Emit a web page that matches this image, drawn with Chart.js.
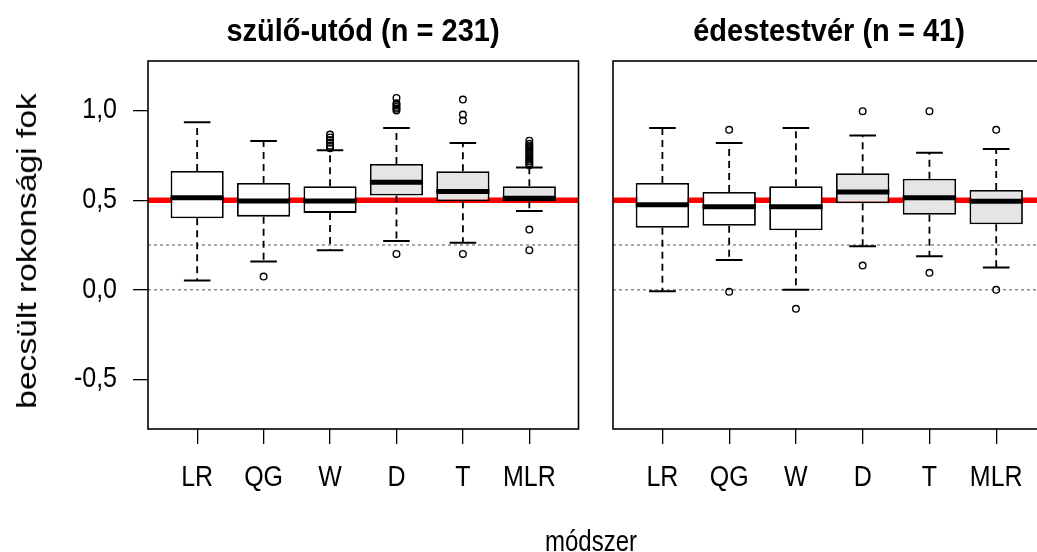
<!DOCTYPE html>
<html>
<head>
<meta charset="utf-8">
<script src="https://cdn.jsdelivr.net/npm/chart.js@4/dist/chart.umd.min.js"></script>
<style>
  html, body { margin: 0; padding: 0; width: 1037px; height: 552px; overflow: hidden; background: #fff; }
  canvas { position: absolute; top: 0; }
  .txt { position: absolute; font-family: "Liberation Sans", Arial, sans-serif; color: #000; white-space: nowrap; line-height: 1; }
  .ttl { font-weight: bold; font-size: 29px; top: 31px; transform: translate(-50%, -50%) scaleY(1.05); }
</style>
</head>
<body>
<canvas id="left" width="600" height="552" style="left:0px"></canvas>
<canvas id="right" width="460" height="552" style="left:600px"></canvas>
<div class="txt ttl" style="left:363px">szülő-utód (n = 231)</div>
<div class="txt ttl" style="left:829px">édestestvér (n = 41)</div>
<div class="txt" style="left:27px; top:251px; font-size:28px; transform: translate(-50%, -50%) rotate(-90deg) scaleX(1.2);">becsült rokonsági fok</div>
<div class="txt" style="left:591px; top:541px; font-size:24px; transform: translate(-50%, -50%) scaleY(1.25);">módszer</div>
<script>
// ---- data ----
const categories = ['LR', 'QG', 'W', 'D', 'T', 'MLR'];
const boxFill = ['#ffffff', '#ffffff', '#ffffff', '#e5e5e5', '#e5e5e5', '#e5e5e5'];
const yTicks = [-0.5, 0, 0.5, 1.0];
const redLineValue = 0.5;
const dottedLineValues = [0.25, 0];

// szülő-utód (n = 231)
const poLow    = [0.052, 0.158, 0.221, 0.273, 0.262, 0.440];
const poQ1     = [0.399, 0.408, 0.429, 0.526, 0.494, 0.494];
const poMedian = [0.514, 0.496, 0.496, 0.600, 0.548, 0.511];
const poQ3     = [0.663, 0.596, 0.578, 0.702, 0.661, 0.578];
const poHigh   = [0.934, 0.830, 0.778, 0.903, 0.819, 0.682];
const poOutliers = [
  [],
  [0.074],
  [0.790, 0.804, 0.820, 0.835, 0.850, 0.866],
  [0.200, 1.000, 1.010, 1.020, 1.030, 1.040, 1.070],
  [0.200, 0.944, 0.977, 1.061],
  [0.221, 0.336, 0.695, 0.705, 0.715, 0.725, 0.735, 0.745, 0.755, 0.765, 0.775, 0.785, 0.795, 0.805, 0.815, 0.832]
];

// édestestvér (n = 41)
const sibLow    = [-0.008, 0.167, 0.000, 0.243, 0.187, 0.124];
const sibQ1     = [0.346, 0.357, 0.332, 0.483, 0.418, 0.366];
const sibMedian = [0.474, 0.463, 0.463, 0.546, 0.514, 0.494];
const sibQ3     = [0.596, 0.546, 0.578, 0.650, 0.619, 0.557];
const sibHigh   = [0.903, 0.819, 0.903, 0.860, 0.765, 0.786];
const sibOutliers = [
  [],
  [0.892, -0.011],
  [-0.106],
  [0.996, 0.135],
  [0.996, 0.095],
  [0.892, 0.000]
];

// ---- chart helpers ----
const X_MIN = 0.26, X_MAX = 6.74;
const Y_MIN = -0.776, Y_MAX = 1.276;
const FONT = '"Liberation Sans", Arial, sans-serif';
const TICK_FONT_SIZE = 25;
const TICK_STRETCH = 1.15;

function fmt(v) {
  return (Math.round(v * 10) / 10).toFixed(1).replace('.', ',');
}

const boxPlugin = {
  id: 'boxParts',
  afterDatasetsDraw(chart) {
    const st = chart.options.plugins.boxParts;
    const xs = chart.scales.x, ys = chart.scales.y;
    const meta = chart.getDatasetMeta(st.boxIndex);
    const ctx = chart.ctx;
    ctx.save();
    for (let i = 0; i < categories.length; i++) {
      const cx = xs.getPixelForValue(i + 1);
      const bw = meta.data[i].width;
      const staple = bw / 2;
      ctx.strokeStyle = '#000';
      ctx.lineWidth = 1.8;
      ctx.setLineDash([7, 5]);
      ctx.beginPath();
      ctx.moveTo(cx, ys.getPixelForValue(st.q3[i]));
      ctx.lineTo(cx, ys.getPixelForValue(st.high[i]));
      ctx.moveTo(cx, ys.getPixelForValue(st.q1[i]));
      ctx.lineTo(cx, ys.getPixelForValue(st.low[i]));
      ctx.stroke();
      ctx.setLineDash([]);
      ctx.lineWidth = 2;
      ctx.beginPath();
      const yh = ys.getPixelForValue(st.high[i]);
      const yl = ys.getPixelForValue(st.low[i]);
      ctx.moveTo(cx - staple / 2, yh); ctx.lineTo(cx + staple / 2, yh);
      ctx.moveTo(cx - staple / 2, yl); ctx.lineTo(cx + staple / 2, yl);
      ctx.stroke();
      ctx.lineWidth = 5;
      ctx.lineCap = 'butt';
      const ym = ys.getPixelForValue(st.median[i]);
      ctx.beginPath();
      ctx.moveTo(cx - bw / 2, ym); ctx.lineTo(cx + bw / 2, ym);
      ctx.stroke();
    }
    ctx.restore();
  },
  afterDraw(chart) {
    const st = chart.options.plugins.boxParts;
    const a = chart.chartArea, ctx = chart.ctx;
    const xs = chart.scales.x, ys = chart.scales.y;
    ctx.save();
    ctx.strokeStyle = '#000';
    ctx.lineWidth = 1.6;
    ctx.strokeRect(a.left, a.top, a.right - a.left, a.bottom - a.top);
    ctx.fillStyle = '#000';
    ctx.font = TICK_FONT_SIZE + 'px ' + FONT;
    ctx.textBaseline = 'middle';
    ctx.textAlign = 'center';
    categories.forEach((c, i) => {
      ctx.save();
      ctx.translate(xs.getPixelForValue(i + 1), a.bottom + 49);
      ctx.scale(1, TICK_STRETCH);
      ctx.fillText(c, 0, 0);
      ctx.restore();
    });
    if (st.showY) {
      ctx.textAlign = 'right';
      yTicks.forEach(v => {
        ctx.save();
        ctx.translate(a.left - 31, ys.getPixelForValue(v));
        ctx.scale(1, TICK_STRETCH);
        ctx.fillText(fmt(v), 0, 0);
        ctx.restore();
      });
    }
    ctx.restore();
  }
};

function makeChart(id, low, q1, median, q3, high, outliers, showY, yWidth, padding) {
  const boxData = categories.map((c, i) => ({ x: i + 1, y: [q1[i], q3[i]] }));
  const outData = [];
  outliers.forEach((arr, i) => arr.forEach(v => outData.push({ x: i + 1, y: v })));
  const hline = v => [{ x: X_MIN, y: v }, { x: X_MAX, y: v }];
  const datasets = [
    {
      type: 'scatter', data: outData, order: 1,
      pointStyle: 'circle', pointRadius: 3.3, pointBorderWidth: 1.4,
      pointBorderColor: '#000', pointBackgroundColor: 'rgba(0,0,0,0)'
    },
    {
      type: 'bar', data: boxData, order: 2,
      backgroundColor: boxFill, borderColor: '#000', borderWidth: 1.8, borderSkipped: false,
      barPercentage: 0.8, categoryPercentage: 1.0
    },
    {
      type: 'line', data: hline(redLineValue), order: 3,
      borderColor: '#ff0000', borderWidth: 5.5, pointRadius: 0
    }
  ];
  dottedLineValues.forEach(v => datasets.push({
    type: 'line', data: hline(v), order: 4,
    borderColor: '#555', borderWidth: 1, borderDash: [3, 3], pointRadius: 0
  }));

  return new Chart(document.getElementById(id), {
    data: { datasets },
    plugins: [boxPlugin],
    options: {
      responsive: false,
      animation: false,
      events: [],
      layout: { padding: padding, autoPadding: false },
      plugins: {
        legend: { display: false },
        tooltip: { enabled: false },
        boxParts: { boxIndex: 1, low, q1, median, q3, high, showY }
      },
      scales: {
        x: {
          type: 'linear', min: X_MIN, max: X_MAX, offset: false,
          afterBuildTicks: s => { s.ticks = categories.map((c, i) => ({ value: i + 1 })); },
          afterFit: s => { s.height = 123; },
          ticks: { display: false },
          grid: { offset: false, drawOnChartArea: false, drawTicks: true, tickLength: 15, color: '#000', lineWidth: 1.3 },
          border: { display: false }
        },
        y: {
          type: 'linear', min: Y_MIN, max: Y_MAX, display: true,
          afterBuildTicks: s => { s.ticks = yTicks.map(v => ({ value: v })); },
          afterFit: s => { s.width = yWidth; },
          ticks: { display: false },
          grid: { offset: false, drawOnChartArea: false, drawTicks: showY, tickLength: 15, color: '#000', lineWidth: 1.3 },
          border: { display: false }
        }
      }
    }
  });
}

makeChart('left', poLow, poQ1, poMedian, poQ3, poHigh, poOutliers, true, 148,
  { left: 0, right: 21.5, top: 61, bottom: 0 });
makeChart('right', sibLow, sibQ1, sibMedian, sibQ3, sibHigh, sibOutliers, false, 0,
  { left: 13, right: 14.4, top: 61, bottom: 0 });
</script>
</body>
</html>
